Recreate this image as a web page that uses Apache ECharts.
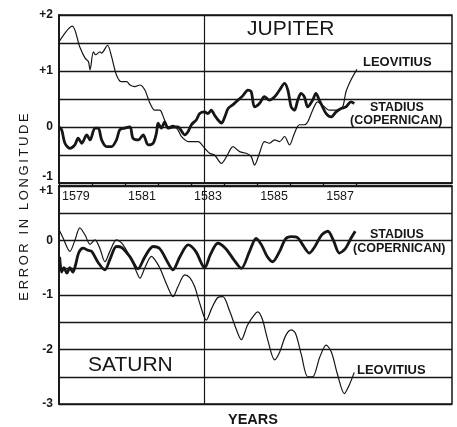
<!DOCTYPE html>
<html>
<head>
<meta charset="utf-8">
<script src="https://cdn.jsdelivr.net/npm/echarts@6/dist/echarts.min.js"></script>
<style>
  html, body { margin: 0; padding: 0; background: #fff; }
  #main { width: 457px; height: 427px; }
</style>
</head>
<body>
<div id="main"></div>
<script>
// Jupiter, Leovitius tables (thin line)
const jupLeoYears = [1579.0, 1579.40, 1579.63, 1579.79, 1579.89, 1579.94, 1580.04, 1580.11, 1580.24, 1580.29, 1580.47, 1580.59, 1580.74, 1580.89, 1581.05, 1581.15, 1581.30, 1581.45, 1581.60, 1581.75, 1581.90, 1582.05, 1582.10, 1582.20, 1582.30, 1582.45, 1582.60, 1582.71, 1582.91, 1583.21, 1583.41, 1583.56, 1583.71, 1583.92, 1584.07, 1584.27, 1584.47, 1584.67, 1584.82, 1584.92, 1585.07, 1585.22, 1585.37, 1585.53, 1585.68, 1585.83, 1585.98, 1586.13, 1586.28, 1586.43, 1586.53, 1586.68, 1586.83, 1586.98, 1587.19, 1587.44, 1587.59, 1587.69, 1587.84, 1588.02];
const jupLeoVals = [1.52, 1.80, 1.43, 1.23, 1.17, 1.02, 1.34, 1.29, 1.34, 1.32, 1.46, 1.26, 0.93, 0.81, 0.81, 0.75, 0.72, 0.75, 0.66, 0.43, 0.30, 0.30, 0.27, 0.12, 0.0, 0.03, -0.05, -0.17, -0.26, -0.26, -0.38, -0.47, -0.50, -0.65, -0.53, -0.35, -0.44, -0.47, -0.53, -0.68, -0.47, -0.26, -0.29, -0.23, -0.26, -0.17, -0.32, -0.11, 0.04, 0.04, 0.09, 0.30, 0.45, 0.39, 0.30, 0.30, 0.36, 0.63, 0.84, 1.03];

// Jupiter, Stadius (Copernican) tables (thick line)
const jupStaYears = [1579.0, 1579.08, 1579.18, 1579.33, 1579.48, 1579.58, 1579.69, 1579.84, 1579.94, 1580.09, 1580.19, 1580.29, 1580.44, 1580.59, 1580.74, 1580.84, 1580.99, 1581.15, 1581.24, 1581.40, 1581.55, 1581.70, 1581.85, 1581.95, 1582.0, 1582.10, 1582.20, 1582.30, 1582.45, 1582.60, 1582.81, 1582.91, 1583.01, 1583.16, 1583.26, 1583.41, 1583.51, 1583.61, 1583.71, 1583.81, 1583.92, 1584.02, 1584.12, 1584.27, 1584.42, 1584.57, 1584.72, 1584.82, 1584.92, 1585.07, 1585.22, 1585.37, 1585.53, 1585.68, 1585.83, 1585.93, 1586.03, 1586.13, 1586.23, 1586.33, 1586.43, 1586.53, 1586.68, 1586.78, 1586.88, 1586.98, 1587.09, 1587.24, 1587.39, 1587.54, 1587.69, 1587.84, 1587.94];
const jupStaVals = [0.0, -0.05, -0.29, -0.38, -0.32, -0.20, -0.29, -0.14, -0.23, -0.02, -0.02, -0.23, -0.35, -0.35, -0.23, -0.05, -0.02, 0.0, -0.20, -0.23, -0.14, -0.32, -0.29, -0.11, 0.07, -0.02, 0.09, -0.02, 0.0, 0.0, -0.14, -0.08, 0.04, 0.13, 0.24, 0.27, 0.24, 0.30, 0.21, 0.13, 0.07, 0.18, 0.33, 0.40, 0.48, 0.56, 0.66, 0.63, 0.36, 0.42, 0.54, 0.48, 0.54, 0.66, 0.78, 0.66, 0.36, 0.30, 0.48, 0.60, 0.54, 0.36, 0.48, 0.60, 0.48, 0.36, 0.24, 0.18, 0.27, 0.33, 0.36, 0.45, 0.42];

// Saturn, Stadius (Copernican) tables (thick line)
const satStaYears = [1579.02, 1579.08, 1579.15, 1579.24, 1579.33, 1579.42, 1579.50, 1579.60, 1579.73, 1579.88, 1579.99, 1580.18, 1580.39, 1580.54, 1580.74, 1580.90, 1581.15, 1581.39, 1581.60, 1581.85, 1582.05, 1582.29, 1582.45, 1582.66, 1582.91, 1583.14, 1583.41, 1583.59, 1583.81, 1584.05, 1584.29, 1584.52, 1584.77, 1584.97, 1585.13, 1585.31, 1585.47, 1585.68, 1585.86, 1586.03, 1586.23, 1586.40, 1586.58, 1586.76, 1586.95, 1587.14, 1587.31, 1587.49, 1587.67, 1587.85, 1587.97];
const satStaVals = [-0.30, -0.58, -0.50, -0.60, -0.50, -0.58, -0.45, -0.22, -0.14, -0.18, -0.20, -0.40, -0.54, -0.35, -0.11, -0.13, -0.30, -0.52, -0.30, -0.11, -0.15, -0.40, -0.54, -0.30, -0.08, -0.20, -0.50, -0.25, -0.05, -0.15, -0.35, -0.51, -0.20, 0.04, -0.08, -0.30, -0.39, -0.20, 0.03, 0.07, 0.05, -0.10, -0.23, -0.10, 0.10, 0.17, 0.0, -0.23, -0.15, 0.05, 0.17];

// Saturn, Leovitius tables (thin line)
const satLeoYears = [1579.0, 1579.12, 1579.33, 1579.48, 1579.63, 1579.79, 1579.94, 1580.09, 1580.24, 1580.39, 1580.54, 1580.74, 1580.90, 1581.15, 1581.33, 1581.45, 1581.60, 1581.80, 1581.90, 1582.05, 1582.29, 1582.45, 1582.60, 1582.81, 1582.96, 1583.11, 1583.26, 1583.46, 1583.62, 1583.80, 1583.96, 1584.17, 1584.35, 1584.52, 1584.71, 1584.92, 1585.02, 1585.16, 1585.31, 1585.53, 1585.68, 1585.86, 1586.03, 1586.16, 1586.34, 1586.53, 1586.68, 1586.89, 1587.09, 1587.25, 1587.43, 1587.64, 1587.79, 1587.94];
const satLeoVals = [0.20, 0.05, -0.20, 0.0, 0.23, 0.10, -0.07, 0.01, -0.15, -0.39, -0.20, 0.01, -0.05, -0.30, -0.55, -0.69, -0.50, -0.29, -0.35, -0.50, -0.85, -1.03, -0.85, -0.63, -0.68, -0.85, -1.15, -1.46, -1.25, -1.05, -1.03, -1.30, -1.60, -1.82, -1.55, -1.36, -1.31, -1.45, -1.80, -2.19, -2.05, -1.75, -1.64, -1.70, -2.10, -2.50, -2.50, -2.15, -1.92, -2.05, -2.45, -2.81, -2.65, -2.42];

const yearTicks = [1579, 1580, 1581, 1582, 1583, 1584, 1585, 1586, 1587, 1588];
const yearLabels = [1579, 1581, 1583, 1585, 1587];
const markYear = 1583.41;

const ink = '#161616';
const font = '"Liberation Sans", Arial, sans-serif';

function zip(xs, ys) { return xs.map((x, i) => [x, ys[i]]); }

function signed(v) {
  if (Math.abs(v - Math.round(v)) > 1e-6) return '';
  return v > 0 ? '+' + v : String(v);
}

const chart = echarts.init(document.getElementById('main'), null, { renderer: 'canvas' });

const yLabelBase = { color: ink, fontSize: 12, fontWeight: 'bold', fontFamily: font, margin: 6 };

const option = {
  backgroundColor: '#fff',
  animation: false,
  grid: [
    { left: 59, top: 15, width: 393, height: 168, show: true, borderColor: ink, borderWidth: 1.5, backgroundColor: 'transparent' },
    { left: 59, top: 186, width: 393, height: 218, show: true, borderColor: ink, borderWidth: 1.5, backgroundColor: 'transparent' }
  ],
  xAxis: [
    {
      type: 'value', gridIndex: 0, min: 1579, max: 1590.9, position: 'bottom',
      axisLine: { show: true, onZero: false, lineStyle: { color: ink, width: 1.5 } },
      axisTick: { show: true, customValues: yearTicks, length: 3, lineStyle: { color: ink, width: 1.3 } },
      axisLabel: { show: false },
      splitLine: { show: false }
    },
    {
      type: 'value', gridIndex: 1, min: 1579, max: 1590.9, position: 'top',
      axisLine: { show: true, onZero: false, lineStyle: { color: ink, width: 1.5 } },
      axisTick: { show: false },
      axisLabel: {
        show: true, inside: true, customValues: yearLabels, margin: 4,
        align: 'left', padding: [0, 0, 0, 3],
        color: ink, fontSize: 12.5, fontFamily: font,
        formatter: v => String(v)
      },
      splitLine: { show: false }
    }
  ],
  yAxis: [
    {
      type: 'value', gridIndex: 0, min: -1, max: 2, interval: 0.5,
      axisLine: { show: true, onZero: false, lineStyle: { color: ink, width: 1.8 } },
      axisTick: { show: false },
      splitLine: { show: true, lineStyle: { color: ink, width: 1.3 } },
      axisLabel: Object.assign({}, yLabelBase, {
        formatter: v => v === -1 ? '{up|-1}' : signed(v),
        rich: { up: { color: ink, fontSize: 12, fontWeight: 'bold', fontFamily: font, padding: [0, 0, 12, 0] } }
      })
    },
    {
      type: 'value', gridIndex: 1, min: -3, max: 1, interval: 0.5,
      axisLine: { show: true, onZero: false, lineStyle: { color: ink, width: 1.8 } },
      axisTick: { show: false },
      splitLine: { show: true, lineStyle: { color: ink, width: 1.3 } },
      axisLabel: Object.assign({}, yLabelBase, {
        formatter: v => v === 1 ? '{dn|+1}' : signed(v),
        rich: { dn: { color: ink, fontSize: 12, fontWeight: 'bold', fontFamily: font, padding: [10, 0, 0, 0] } }
      })
    }
  ],
  series: [
    {
      name: 'Jupiter Leovitius', type: 'line', xAxisIndex: 0, yAxisIndex: 0,
      data: zip(jupLeoYears, jupLeoVals), showSymbol: false, smooth: 0.3,
      lineStyle: { color: ink, width: 1.2 },
      markLine: {
        silent: true, symbol: 'none', label: { show: false },
        lineStyle: { color: ink, width: 1.2, type: 'solid' },
        data: [{ xAxis: markYear }]
      }
    },
    {
      name: 'Jupiter Stadius', type: 'line', xAxisIndex: 0, yAxisIndex: 0,
      data: zip(jupStaYears, jupStaVals), showSymbol: false, smooth: 0.3,
      lineStyle: { color: ink, width: 2.8 }
    },
    {
      name: 'Saturn Stadius', type: 'line', xAxisIndex: 1, yAxisIndex: 1,
      data: zip(satStaYears, satStaVals), showSymbol: false, smooth: 0.3,
      lineStyle: { color: ink, width: 2.8 },
      markLine: {
        silent: true, symbol: 'none', label: { show: false },
        lineStyle: { color: ink, width: 1.2, type: 'solid' },
        data: [{ xAxis: markYear }]
      }
    },
    {
      name: 'Saturn Leovitius', type: 'line', xAxisIndex: 1, yAxisIndex: 1,
      data: zip(satLeoYears, satLeoVals), showSymbol: false, smooth: 0.3,
      lineStyle: { color: ink, width: 1.2 }
    }
  ],
  graphic: [
    { type: 'text', x: 247, y: 29.5, style: { text: 'JUPITER', font: '21px ' + font, fill: ink, textVerticalAlign: 'middle' } },
    { type: 'text', x: 88, y: 365.5, style: { text: 'SATURN', font: '21px ' + font, fill: ink, textVerticalAlign: 'middle' } },
    { type: 'text', x: 363, y: 62.5, style: { text: 'LEOVITIUS', font: 'bold 13px ' + font, fill: ink, textVerticalAlign: 'middle' } },
    { type: 'text', x: 370, y: 108, style: { text: 'STADIUS', font: 'bold 12.5px ' + font, fill: ink, textVerticalAlign: 'middle' } },
    { type: 'text', x: 350, y: 120.5, style: { text: '(COPERNICAN)', font: 'bold 12.5px ' + font, fill: ink, textVerticalAlign: 'middle' } },
    { type: 'text', x: 370, y: 235, style: { text: 'STADIUS', font: 'bold 12.5px ' + font, fill: ink, textVerticalAlign: 'middle' } },
    { type: 'text', x: 353, y: 249, style: { text: '(COPERNICAN)', font: 'bold 12.5px ' + font, fill: ink, textVerticalAlign: 'middle' } },
    { type: 'text', x: 357, y: 370.5, style: { text: 'LEOVITIUS', font: 'bold 13px ' + font, fill: ink, textVerticalAlign: 'middle' } },
    { type: 'text', x: 228, y: 420, style: { text: 'YEARS', font: 'bold 14.5px ' + font, fill: ink, textVerticalAlign: 'middle' } },
    {
      type: 'text', x: 24, y: 207, rotation: Math.PI / 2,
      style: {
        text: 'ERROR IN LONGITUDE'.split('').join('\u2009'),
        font: '13px ' + font, fill: ink, textAlign: 'center', textVerticalAlign: 'middle'
      }
    }
  ]
};

chart.setOption(option);
</script>
</body>
</html>
